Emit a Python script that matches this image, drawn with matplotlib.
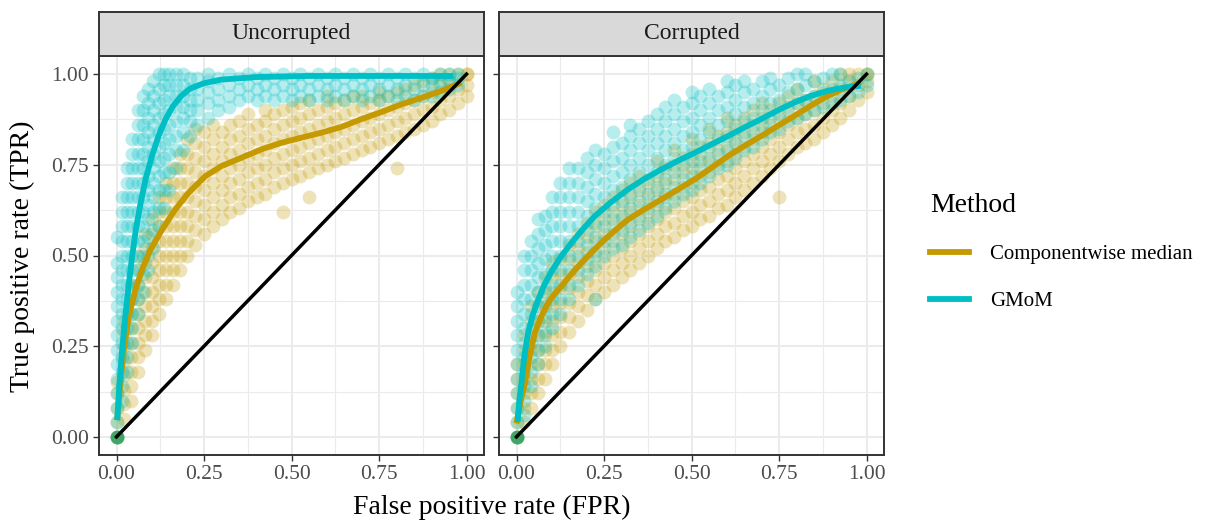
import numpy as np
import matplotlib
matplotlib.use("Agg")
from matplotlib import pyplot as plt
from matplotlib.lines import Line2D

plt.rcParams['font.family'] = ['Liberation Serif', 'DejaVu Serif']

col_med = '#C49A00'
col_gm = '#00BFC4'

# Point clouds are kept column-wise: an FPR value and the TPR values seen above it.

# ---- Uncorrupted, componentwise median ----
unc_med_cols = [0.0, 0.02, 0.04, 0.06, 0.08, 0.1, 0.12, 0.14, 0.16, 0.18, 0.2, 0.225, 0.25, 0.275,
                0.3, 0.325, 0.35, 0.375, 0.4, 0.425, 0.45, 0.475, 0.5, 0.525, 0.55, 0.575, 0.6,
                0.625, 0.65, 0.675, 0.7, 0.725, 0.75, 0.775, 0.8, 0.825, 0.85, 0.875, 0.9, 0.925,
                0.95, 0.975, 1.0]
unc_med_vals = [
    [0.0, 0.04, 0.08, 0.12, 0.15],
    [0.05, 0.09, 0.13, 0.17, 0.21, 0.25, 0.29, 0.32],
    [0.1, 0.14, 0.18, 0.22, 0.26, 0.3, 0.34, 0.38, 0.42],
    [0.18, 0.22, 0.26, 0.3, 0.34, 0.38, 0.42, 0.46, 0.5],
    [0.24, 0.28, 0.32, 0.36, 0.4, 0.44, 0.48, 0.52, 0.56],
    [0.28, 0.32, 0.36, 0.4, 0.44, 0.48, 0.52, 0.56, 0.6],
    [0.34, 0.38, 0.42, 0.46, 0.5, 0.54, 0.58, 0.62, 0.66],
    [0.38, 0.42, 0.46, 0.5, 0.54, 0.58, 0.62, 0.66, 0.7],
    [0.42, 0.46, 0.5, 0.54, 0.58, 0.62, 0.66, 0.7, 0.74],
    [0.46, 0.5, 0.54, 0.58, 0.62, 0.66, 0.7, 0.74, 0.78],
    [0.5, 0.54, 0.58, 0.62, 0.66, 0.7, 0.74, 0.78, 0.82],
    [0.53, 0.57, 0.61, 0.65, 0.69, 0.73, 0.77, 0.81, 0.85],
    [0.56, 0.6, 0.64, 0.68, 0.72, 0.76, 0.8, 0.84],
    [0.58, 0.62, 0.66, 0.7, 0.74, 0.78, 0.82, 0.86],
    [0.6, 0.64, 0.68, 0.72, 0.76, 0.8, 0.84],
    [0.62, 0.66, 0.7, 0.74, 0.78, 0.82, 0.86],
    [0.63, 0.67, 0.71, 0.75, 0.79, 0.83, 0.87],
    [0.65, 0.69, 0.73, 0.77, 0.81, 0.85, 0.89],
    [0.66, 0.7, 0.74, 0.78, 0.82, 0.86],
    [0.67, 0.71, 0.75, 0.79, 0.83, 0.87, 0.9],
    [0.69, 0.73, 0.77, 0.81, 0.85, 0.89],
    [0.62, 0.7, 0.74, 0.78, 0.82, 0.86, 0.9],
    [0.71, 0.75, 0.79, 0.83, 0.87, 0.91],
    [0.72, 0.76, 0.8, 0.84, 0.88, 0.92],
    [0.66, 0.73, 0.77, 0.81, 0.85, 0.89, 0.93],
    [0.74, 0.78, 0.82, 0.86, 0.9],
    [0.75, 0.79, 0.83, 0.87, 0.91, 0.94],
    [0.76, 0.8, 0.84, 0.88, 0.92],
    [0.77, 0.81, 0.85, 0.89, 0.93],
    [0.78, 0.82, 0.86, 0.9, 0.94],
    [0.79, 0.83, 0.87, 0.91, 0.94],
    [0.8, 0.84, 0.88, 0.92],
    [0.81, 0.85, 0.89, 0.93, 0.95],
    [0.82, 0.86, 0.9, 0.94],
    [0.74, 0.83, 0.87, 0.91, 0.95],
    [0.84, 0.88, 0.92, 0.96],
    [0.85, 0.89, 0.93, 0.97],
    [0.86, 0.9, 0.94, 0.98],
    [0.87, 0.91, 0.95, 0.99],
    [0.89, 0.93, 0.97, 1.0],
    [0.9, 0.94, 0.98, 1.0],
    [0.92, 0.96, 1.0],
    [0.94, 0.97, 1.0, 1.0],
]

# ---- Uncorrupted, GMoM ----
unc_gm_cols = [0.0, 0.015, 0.03, 0.045, 0.06, 0.075, 0.09, 0.105, 0.12, 0.135, 0.15, 0.17, 0.19,
               0.21, 0.23, 0.26, 0.29, 0.32, 0.35, 0.375, 0.4, 0.425, 0.45, 0.475, 0.5, 0.525,
               0.55, 0.575, 0.6, 0.625, 0.65, 0.675, 0.7, 0.725, 0.75, 0.775, 0.8, 0.825, 0.85,
               0.875, 0.9, 0.925, 0.95, 0.975]
unc_gm_vals = [
    [0.0, 0.04, 0.08, 0.12, 0.16, 0.2, 0.24, 0.28, 0.32, 0.36, 0.4, 0.44, 0.48, 0.55],
    [0.1, 0.14, 0.18, 0.22, 0.26, 0.3, 0.34, 0.38, 0.42, 0.46, 0.5, 0.54, 0.58, 0.62, 0.66],
    [0.18, 0.22, 0.26, 0.3, 0.34, 0.38, 0.42, 0.46, 0.5, 0.54, 0.58, 0.62, 0.66, 0.7, 0.74],
    [0.26, 0.3, 0.34, 0.38, 0.42, 0.46, 0.5, 0.54, 0.58, 0.62, 0.66, 0.7, 0.74, 0.78, 0.82],
    [0.34, 0.38, 0.42, 0.46, 0.5, 0.54, 0.58, 0.62, 0.66, 0.7, 0.74, 0.78, 0.82, 0.86, 0.9],
    [0.4, 0.45, 0.5, 0.54, 0.58, 0.62, 0.66, 0.7, 0.74, 0.78, 0.82, 0.86, 0.9, 0.94],
    [0.46, 0.5, 0.55, 0.6, 0.64, 0.68, 0.72, 0.76, 0.8, 0.84, 0.88, 0.92, 0.96],
    [0.52, 0.57, 0.62, 0.66, 0.7, 0.74, 0.78, 0.82, 0.86, 0.9, 0.94, 0.98],
    [0.58, 0.63, 0.68, 0.72, 0.76, 0.8, 0.84, 0.88, 0.92, 0.96, 1.0],
    [0.63, 0.68, 0.73, 0.77, 0.81, 0.85, 0.89, 0.93, 0.97, 1.0],
    [0.68, 0.73, 0.78, 0.82, 0.86, 0.9, 0.94, 0.97, 1.0],
    [0.74, 0.79, 0.83, 0.87, 0.91, 0.94, 0.97, 1.0],
    [0.79, 0.84, 0.88, 0.91, 0.94, 0.97, 1.0],
    [0.83, 0.87, 0.9, 0.93, 0.96, 0.99],
    [0.86, 0.9, 0.93, 0.96, 0.99],
    [0.88, 0.92, 0.95, 0.98, 1.0],
    [0.9, 0.93, 0.96, 0.99],
    [0.91, 0.94, 0.97, 1.0],
    [0.93, 0.96, 0.99],
    [0.94, 0.97, 1.0],
    [0.93, 0.96, 0.99],
    [0.94, 0.97, 1.0],
    [0.93, 0.96, 0.99],
    [0.94, 0.97, 1.0],
    [0.93, 0.96, 0.99],
    [0.94, 0.97, 1.0],
    [0.93, 0.96, 0.99],
    [0.94, 0.97, 1.0],
    [0.93, 0.96, 0.99],
    [0.94, 0.97, 1.0],
    [0.93, 0.96, 0.99],
    [0.94, 0.97, 1.0],
    [0.93, 0.96, 0.99],
    [0.94, 0.97, 1.0],
    [0.93, 0.96, 0.99],
    [0.94, 0.97, 1.0],
    [0.93, 0.96, 0.99],
    [0.94, 0.97, 1.0],
    [0.93, 0.96, 0.99],
    [0.94, 0.97, 1.0],
    [0.94, 0.97, 0.99],
    [0.95, 0.98, 1.0],
    [0.96, 0.98, 1.0],
    [0.97, 0.99, 1.0],
]

# ---- Corrupted, componentwise median ----
cor_med_cols = [0.0, 0.02, 0.04, 0.06, 0.08, 0.1, 0.125, 0.15, 0.175, 0.2, 0.225, 0.25, 0.275,
                0.3, 0.325, 0.35, 0.375, 0.4, 0.425, 0.45, 0.475, 0.5, 0.525, 0.55, 0.575, 0.6,
                0.625, 0.65, 0.675, 0.7, 0.725, 0.75, 0.775, 0.8, 0.825, 0.85, 0.875, 0.9, 0.925,
                0.95, 0.975, 1.0]
cor_med_vals = [
    [0.0, 0.04, 0.08, 0.12, 0.16, 0.2],
    [0.04, 0.08, 0.12, 0.16, 0.2, 0.24, 0.28],
    [0.08, 0.12, 0.16, 0.2, 0.24, 0.28, 0.32, 0.36],
    [0.12, 0.16, 0.2, 0.24, 0.28, 0.32, 0.36, 0.4],
    [0.16, 0.2, 0.24, 0.28, 0.32, 0.36, 0.4, 0.44],
    [0.2, 0.24, 0.28, 0.32, 0.36, 0.4, 0.44, 0.48],
    [0.25, 0.29, 0.33, 0.37, 0.41, 0.45, 0.49],
    [0.29, 0.33, 0.37, 0.41, 0.45, 0.49, 0.53],
    [0.32, 0.36, 0.4, 0.44, 0.48, 0.52, 0.56],
    [0.35, 0.39, 0.43, 0.47, 0.51, 0.55, 0.59],
    [0.38, 0.42, 0.46, 0.5, 0.54, 0.58, 0.62],
    [0.4, 0.44, 0.48, 0.52, 0.56, 0.6, 0.64],
    [0.42, 0.46, 0.5, 0.54, 0.58, 0.62, 0.66],
    [0.44, 0.48, 0.52, 0.56, 0.6, 0.64, 0.68],
    [0.46, 0.5, 0.54, 0.58, 0.62, 0.66, 0.7],
    [0.48, 0.52, 0.56, 0.6, 0.64, 0.68, 0.72],
    [0.5, 0.54, 0.58, 0.62, 0.66, 0.7],
    [0.52, 0.56, 0.6, 0.64, 0.68, 0.72, 0.76],
    [0.54, 0.58, 0.62, 0.66, 0.7, 0.74],
    [0.55, 0.59, 0.63, 0.67, 0.71, 0.75, 0.79],
    [0.57, 0.61, 0.65, 0.69, 0.73, 0.77],
    [0.58, 0.62, 0.66, 0.7, 0.74, 0.78, 0.82],
    [0.6, 0.64, 0.68, 0.72, 0.76, 0.8],
    [0.61, 0.65, 0.69, 0.73, 0.77, 0.81, 0.85],
    [0.63, 0.67, 0.71, 0.75, 0.79, 0.83],
    [0.64, 0.68, 0.72, 0.76, 0.8, 0.84, 0.88],
    [0.66, 0.7, 0.74, 0.78, 0.82, 0.86],
    [0.68, 0.72, 0.76, 0.8, 0.84, 0.88],
    [0.7, 0.74, 0.78, 0.82, 0.86, 0.9],
    [0.72, 0.76, 0.8, 0.84, 0.88, 0.92],
    [0.74, 0.78, 0.82, 0.86, 0.9],
    [0.66, 0.76, 0.8, 0.84, 0.88, 0.92],
    [0.78, 0.82, 0.86, 0.9, 0.94],
    [0.8, 0.84, 0.88, 0.92, 0.96],
    [0.81, 0.85, 0.89, 0.93],
    [0.82, 0.86, 0.9, 0.94, 0.98],
    [0.84, 0.88, 0.92, 0.96],
    [0.86, 0.9, 0.94, 0.98],
    [0.88, 0.92, 0.96, 1.0],
    [0.9, 0.94, 0.98, 1.0],
    [0.93, 0.97, 1.0],
    [0.95, 0.98, 1.0, 1.0],
]

# ---- Corrupted, GMoM ----
cor_gm_cols = [0.0, 0.02, 0.04, 0.06, 0.08, 0.1, 0.125, 0.15, 0.175, 0.2, 0.225, 0.25, 0.275,
               0.3, 0.325, 0.35, 0.375, 0.4, 0.425, 0.45, 0.475, 0.5, 0.525, 0.55, 0.575, 0.6,
               0.625, 0.65, 0.675, 0.7, 0.725, 0.75, 0.775, 0.8, 0.825, 0.85, 0.875, 0.9, 0.925,
               0.95, 0.975, 1.0]
cor_gm_vals = [
    [0.0, 0.04, 0.08, 0.12, 0.16, 0.2, 0.24, 0.28, 0.32, 0.36, 0.4],
    [0.06, 0.1, 0.14, 0.18, 0.22, 0.26, 0.3, 0.34, 0.38, 0.42, 0.46, 0.5],
    [0.14, 0.18, 0.22, 0.26, 0.3, 0.34, 0.38, 0.42, 0.46, 0.5, 0.54],
    [0.2, 0.24, 0.28, 0.32, 0.36, 0.4, 0.44, 0.48, 0.52, 0.56, 0.6],
    [0.25, 0.29, 0.33, 0.37, 0.41, 0.45, 0.49, 0.53, 0.57, 0.61],
    [0.3, 0.34, 0.38, 0.42, 0.46, 0.5, 0.54, 0.58, 0.62, 0.66],
    [0.34, 0.38, 0.42, 0.46, 0.5, 0.54, 0.58, 0.62, 0.66, 0.7],
    [0.38, 0.42, 0.46, 0.5, 0.54, 0.58, 0.62, 0.66, 0.7, 0.74],
    [0.42, 0.46, 0.5, 0.54, 0.58, 0.62, 0.66, 0.7, 0.74],
    [0.45, 0.49, 0.53, 0.57, 0.61, 0.65, 0.69, 0.73, 0.77],
    [0.38, 0.47, 0.51, 0.55, 0.59, 0.63, 0.67, 0.71, 0.75, 0.79],
    [0.5, 0.54, 0.58, 0.62, 0.66, 0.7, 0.74, 0.78],
    [0.52, 0.56, 0.6, 0.64, 0.68, 0.72, 0.76, 0.8, 0.84],
    [0.53, 0.57, 0.61, 0.65, 0.69, 0.73, 0.77, 0.81],
    [0.55, 0.59, 0.63, 0.67, 0.71, 0.75, 0.79, 0.83, 0.86],
    [0.57, 0.61, 0.65, 0.69, 0.73, 0.77, 0.81, 0.85],
    [0.59, 0.63, 0.67, 0.71, 0.75, 0.79, 0.83, 0.87],
    [0.61, 0.65, 0.69, 0.73, 0.77, 0.81, 0.85, 0.89],
    [0.63, 0.67, 0.71, 0.75, 0.79, 0.83, 0.87, 0.91],
    [0.65, 0.69, 0.73, 0.77, 0.81, 0.85, 0.89, 0.93],
    [0.67, 0.71, 0.75, 0.79, 0.83, 0.87, 0.91],
    [0.68, 0.72, 0.76, 0.8, 0.84, 0.88, 0.92, 0.95],
    [0.7, 0.74, 0.78, 0.82, 0.86, 0.9, 0.94],
    [0.72, 0.76, 0.8, 0.84, 0.88, 0.92, 0.96],
    [0.74, 0.78, 0.82, 0.86, 0.9, 0.94],
    [0.75, 0.79, 0.83, 0.87, 0.91, 0.95, 0.98],
    [0.77, 0.81, 0.85, 0.89, 0.93, 0.97],
    [0.79, 0.83, 0.87, 0.91, 0.95, 0.98],
    [0.8, 0.84, 0.88, 0.92, 0.96],
    [0.82, 0.86, 0.9, 0.94, 0.98],
    [0.84, 0.88, 0.92, 0.96, 0.99],
    [0.85, 0.89, 0.93, 0.97],
    [0.87, 0.91, 0.95, 0.99],
    [0.88, 0.92, 0.96, 1.0],
    [0.89, 0.93, 0.97, 1.0],
    [0.9, 0.94, 0.98],
    [0.91, 0.95, 0.99],
    [0.92, 0.96, 1.0],
    [0.93, 0.97, 1.0],
    [0.94, 0.98],
    [0.95, 0.99],
    [0.97, 1.0],
]

# ---- smoothed curves ----
unc_med_lx = [0.002, 0.011, 0.021, 0.035, 0.054, 0.073, 0.097, 0.13, 0.168, 0.206, 0.254, 0.301,
              0.358, 0.415, 0.472, 0.529, 0.587, 0.644, 0.70, 0.758, 0.815, 0.872, 0.929, 0.986]
unc_med_ly = [0.046, 0.147, 0.24, 0.332, 0.405, 0.461, 0.516, 0.571, 0.627, 0.673, 0.719, 0.747,
              0.77, 0.793, 0.811, 0.825, 0.839, 0.855, 0.876, 0.896, 0.917, 0.935, 0.954, 0.977]
unc_gm_lx = [0.002, 0.008, 0.016, 0.025, 0.035, 0.045, 0.055, 0.068, 0.083, 0.1, 0.12, 0.14,
             0.16, 0.185, 0.21, 0.25, 0.3, 0.4, 0.55, 0.75, 0.962]
unc_gm_ly = [0.046, 0.14, 0.24, 0.33, 0.42, 0.5, 0.57, 0.64, 0.71, 0.77, 0.83, 0.875,
             0.91, 0.94, 0.96, 0.975, 0.985, 0.992, 0.995, 0.995, 0.995]
cor_med_lx = [0.0, 0.01, 0.024, 0.037, 0.052, 0.07, 0.09, 0.108, 0.128, 0.155, 0.185, 0.218,
              0.252, 0.285, 0.318, 0.365, 0.413, 0.461, 0.509, 0.556, 0.604, 0.651, 0.699,
              0.746, 0.794, 0.841, 0.889, 0.936, 0.984]
cor_med_ly = [0.037, 0.09, 0.147, 0.22, 0.286, 0.33, 0.369, 0.393, 0.415, 0.447, 0.479, 0.512,
              0.544, 0.572, 0.599, 0.627, 0.654, 0.682, 0.71, 0.741, 0.774, 0.802, 0.829,
              0.857, 0.885, 0.913, 0.94, 0.96, 0.977]
cor_gm_lx = [0.003, 0.008, 0.014, 0.022, 0.033, 0.046, 0.062, 0.08, 0.1, 0.127, 0.157, 0.19,
             0.223, 0.27, 0.318, 0.365, 0.413, 0.461, 0.509, 0.556, 0.604, 0.651, 0.699, 0.746,
             0.794, 0.841, 0.889, 0.936, 0.984]
cor_gm_ly = [0.041, 0.1, 0.147, 0.22, 0.286, 0.335, 0.378, 0.42, 0.456, 0.497, 0.535, 0.573,
             0.608, 0.647, 0.682, 0.711, 0.737, 0.761, 0.783, 0.806, 0.829, 0.853, 0.876, 0.9,
             0.922, 0.94, 0.954, 0.963, 0.968]


def flatten(cols, vals):
    xs = [c for c, v in zip(cols, vals) for _ in v]
    ys = [y for v in vals for y in v]
    return xs, ys


panels = [
    ('Uncorrupted', flatten(unc_med_cols, unc_med_vals), flatten(unc_gm_cols, unc_gm_vals),
     (unc_med_lx, unc_med_ly), (unc_gm_lx, unc_gm_ly)),
    ('Corrupted', flatten(cor_med_cols, cor_med_vals), flatten(cor_gm_cols, cor_gm_vals),
     (cor_med_lx, cor_med_ly), (cor_gm_lx, cor_gm_ly)),
]
ticks = [0.0, 0.25, 0.5, 0.75, 1.0]
tick_labels = ['0.00', '0.25', '0.50', '0.75', '1.00']

fig = plt.figure(figsize=(12.29, 5.24), dpi=100)
lefts = [99 / 1229, 499 / 1229]
w = 385 / 1229
b = 1 - 455 / 524
h = 399 / 524
strip_h = 44 / 524

for i, (title, med_pts, gm_pts, med_line, gm_line) in enumerate(panels):
    ax = fig.add_axes([lefts[i], b, w, h])
    ax.set_xlim(-0.05, 1.05)
    ax.set_ylim(-0.05, 1.05)
    ax.set_xticks(ticks)
    ax.set_xticklabels(tick_labels)
    ax.set_yticks(ticks)
    if i == 0:
        ax.set_yticklabels(tick_labels)
    else:
        ax.set_yticklabels([])
        ax.tick_params(axis='y', length=0)
    ax.set_xticks([0.125, 0.375, 0.625, 0.875], minor=True)
    ax.set_yticks([0.125, 0.375, 0.625, 0.875], minor=True)
    ax.grid(True, which='major', color='#EBEBEB', lw=1.5)
    ax.grid(True, which='minor', color='#EBEBEB', lw=0.8)
    ax.tick_params(which='minor', length=0)
    ax.tick_params(which='major', length=4, width=1, color='#333333',
                   labelsize=15.5, labelcolor='#4D4D4D')
    ax.set_axisbelow(True)
    for s in ax.spines.values():
        s.set_color('#333333')
        s.set_linewidth(1.4)

    ax.scatter(med_pts[0], med_pts[1], s=100, color=col_med, alpha=0.28, lw=0, zorder=2)
    ax.scatter(gm_pts[0], gm_pts[1], s=100, color=col_gm, alpha=0.28, lw=0, zorder=2)
    ax.plot(med_line[0], med_line[1], color=col_med, lw=4.2, solid_capstyle='butt',
            solid_joinstyle='round', zorder=3)
    ax.plot(gm_line[0], gm_line[1], color=col_gm, lw=4.2, solid_capstyle='butt',
            solid_joinstyle='round', zorder=3)
    ax.scatter([0], [0], s=100, color='#3FA766', lw=0, zorder=3)
    ax.plot([0, 1], [0, 1], color='black', lw=2.5, zorder=4)

    # facet strip
    sax = fig.add_axes([lefts[i], b + h, w, strip_h])
    sax.set_xticks([])
    sax.set_yticks([])
    sax.set_facecolor('#D9D9D9')
    for s in sax.spines.values():
        s.set_color('#333333')
        s.set_linewidth(1.4)
    sax.text(0.5, 0.5, title, ha='center', va='center', fontsize=17, color='#1A1A1A',
             transform=sax.transAxes)

fig.text(492 / 1229, 1 - 507 / 524, 'False positive rate (FPR)', ha='center', va='center', fontsize=20)
fig.text(22 / 1229, 1 - 256 / 524, 'True positive rate (TPR)', ha='center', va='center',
         rotation=90, fontsize=20)

handles = [Line2D([], [], color=col_med, lw=4.2), Line2D([], [], color=col_gm, lw=4.2)]
leg = fig.legend(handles, ['Componentwise median', 'GMoM'], title='Method',
                 loc='center left', bbox_to_anchor=(911 / 1229, 1 - 252 / 524),
                 frameon=False, fontsize=15, title_fontsize=20, handlelength=1.9,
                 handletextpad=1.0, labelspacing=1.3)
leg._legend_box.align = 'left'

fig.savefig('out.png', dpi=100)
